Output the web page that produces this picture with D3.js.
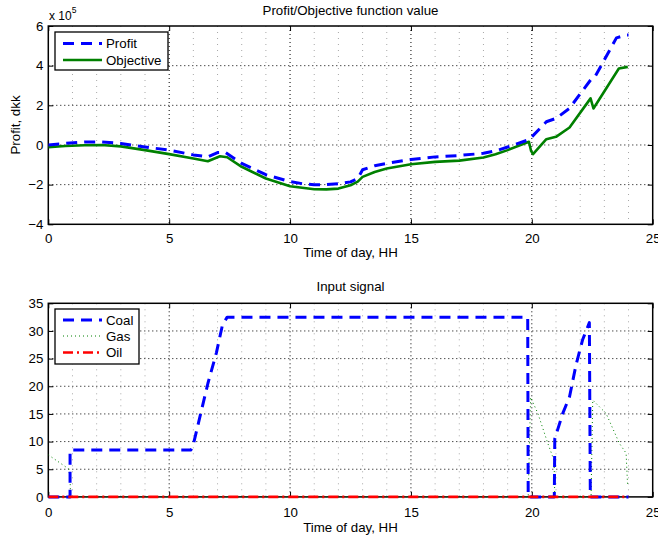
<!DOCTYPE html>
<html><head><meta charset="utf-8">
<script src="https://cdn.jsdelivr.net/npm/d3@7"></script>
<style>
body{margin:0;background:#fff;}
svg text{font-family:"Liberation Sans",Arial,Helvetica,sans-serif;fill:#000;}
</style></head>
<body><svg id="c" width="658" height="539"></svg>
<script>
// ---------- DATA ----------
const xTicks = [0, 5, 10, 15, 20, 25];
const topYTicks = [-4, -2, 0, 2, 4, 6];
const botYTicks = [0, 5, 10, 15, 20, 25, 30, 35];

// Profit (x 10^5 dkk)
const profitT = [0, 0.7, 1.5, 2.2, 3, 4, 5, 6, 6.6, 7.0, 7.3, 8, 9, 10, 10.5, 11, 11.5, 12, 12.5, 12.8, 13.0, 13.5, 14, 15, 16, 17, 18, 18.5, 19, 19.9, 20.6, 21.0, 21.55, 22.45, 22.6, 23.5, 23.9, 24];
const profitV = [0.0, 0.08, 0.15, 0.15, 0.08, -0.1, -0.26, -0.5, -0.6, -0.38, -0.36, -0.93, -1.5, -1.85, -1.95, -2.0, -2.0, -1.95, -1.86, -1.7, -1.25, -1.05, -0.93, -0.73, -0.6, -0.53, -0.42, -0.3, -0.1, 0.28, 1.17, 1.34, 1.84, 3.31, 3.41, 5.4, 5.54, 5.54];
// Objective (x 10^5)
const objT = [0, 0.7, 1.5, 2.2, 3, 4, 5, 6, 6.6, 7.1, 7.4, 8, 9, 10, 11, 11.5, 12, 12.5, 12.8, 13.0, 13.5, 14, 15, 16, 17, 18, 18.5, 19, 19.88, 19.97, 20.05, 20.6, 21.0, 21.56, 22.43, 22.55, 23.6, 23.97];
const objV = [-0.11, -0.05, -0.01, 0.0, -0.07, -0.26, -0.46, -0.68, -0.82, -0.57, -0.62, -1.1, -1.69, -2.08, -2.23, -2.24, -2.2, -2.03, -1.85, -1.61, -1.36, -1.19, -0.97, -0.85, -0.79, -0.63, -0.47, -0.26, 0.16, -0.3, -0.46, 0.29, 0.41, 0.88, 2.35, 1.84, 3.86, 3.94];

// Input signals
const coalT = [0, 0.9, 0.9, 5.9, 6.0, 6.3, 6.6, 6.95, 7.2, 7.4, 19.83, 19.85, 20.93, 20.95, 21.28, 21.56, 21.83, 22.1, 22.38, 22.42, 24];
const coalV = [0, 0, 8.5, 8.5, 9.5, 15, 20.5, 26, 31, 32.5, 32.5, 0, 0, 10.5, 15.1, 18.1, 23.9, 28.4, 31.5, 0, 0];
const gasT = [0, 0.83, 0.9, 0.92, 19.85, 19.95, 20.25, 20.66, 20.92, 20.95, 22.45, 22.52, 23.07, 23.62, 23.9, 23.96];
const gasV = [7.6, 5.1, 3.5, 0, 0, 18.0, 15.1, 9.7, 6.6, 0, 0, 17.5, 15.1, 9.7, 7.9, 2.2];
const oilT = [0, 24];
const oilV = [0, 0];

// ---------- LAYOUT ----------
const svg = d3.select("#c");
const FS = "13.3px";
const L = 48.3, R = 652.7;
const P1 = {top: 26, bottom: 224.3, xpad: 9};
const P2 = {top: 303.3, bottom: 496.9, xpad: 11};
const x = d3.scaleLinear().domain([0, 25]).range([L, R]);
const y1 = d3.scaleLinear().domain([-4, 6]).range([P1.bottom, P1.top]);
const y2 = d3.scaleLinear().domain([0, 35]).range([P2.bottom, P2.top]);

function panel(y, P, yTicks, clipId) {
  const g = svg.append("g");
  const minor = d3.range(1, 25).filter(v => v % 5 !== 0);
  g.selectAll(".mg").data(minor).enter().append("line")
    .attr("x1", d => x(d)).attr("x2", d => x(d)).attr("y1", P.top).attr("y2", P.bottom)
    .attr("stroke", "#a8a8a8").attr("stroke-width", 1).attr("stroke-dasharray", "1,5");
  g.selectAll(".gx").data(xTicks.slice(1, -1)).enter().append("line")
    .attr("x1", d => x(d)).attr("x2", d => x(d)).attr("y1", P.top).attr("y2", P.bottom)
    .attr("stroke", "#000").attr("stroke-width", 1).attr("stroke-dasharray", "1,3");
  g.selectAll(".gy").data(yTicks.slice(1, -1)).enter().append("line")
    .attr("y1", d => y(d)).attr("y2", d => y(d)).attr("x1", L).attr("x2", R)
    .attr("stroke", "#000").attr("stroke-width", 1).attr("stroke-dasharray", "1,3");
  const ax = d3.axisBottom(x).tickValues(xTicks).tickSize(-5).tickPadding(P.xpad).tickFormat(d3.format("d"));
  const ay = d3.axisLeft(y).tickValues(yTicks).tickSize(-5).tickPadding(5).tickFormat(d => d < 0 ? "\u2212" + Math.abs(d) : d);
  const axT = d3.axisTop(x).tickValues(xTicks).tickSize(-5).tickFormat("");
  const ayR = d3.axisRight(y).tickValues(yTicks).tickSize(-5).tickFormat("");
  [
    [ax, `translate(0,${P.bottom})`], [ay, `translate(${L},0)`],
    [axT, `translate(0,${P.top})`], [ayR, `translate(${R},0)`]
  ].forEach(([a, t]) => {
    const ag = g.append("g").attr("transform", t).call(a);
    ag.selectAll("path").remove();
    ag.selectAll("line").attr("stroke", "#000").attr("stroke-width", 1);
    ag.selectAll("text").style("font-size", FS).attr("fill", "#000");
  });
  g.append("defs").append("clipPath").attr("id", clipId).append("rect")
    .attr("x", L).attr("y", P.top - 4).attr("width", R - L).attr("height", P.bottom - P.top + 8);
  svg.append("rect").attr("x", L).attr("y", P.top).attr("width", R - L).attr("height", P.bottom - P.top)
    .attr("fill", "none").attr("stroke", "#000").attr("stroke-width", 1.5);
  return g;
}

function series(T, V, y, clip, color, width, dash) {
  const line = d3.line().x((d, i) => x(T[i])).y((d, i) => y(V[i]));
  svg.append("path").datum(V).attr("d", line).attr("fill", "none")
    .attr("stroke", color).attr("stroke-width", width)
    .attr("stroke-dasharray", dash || null).attr("stroke-linejoin", "round")
    .attr("clip-path", `url(#${clip})`);
}

function legend(bx, by, bw, bh, items) {
  svg.append("rect").attr("x", bx).attr("y", by).attr("width", bw).attr("height", bh)
    .attr("fill", "#fff").attr("stroke", "#000").attr("stroke-width", 1.3);
  items.forEach(it => {
    svg.append("line").attr("x1", bx + 8).attr("x2", bx + 47).attr("y1", it.y).attr("y2", it.y)
      .attr("stroke", it.color).attr("stroke-width", it.w).attr("stroke-dasharray", it.dash || null);
    svg.append("text").attr("x", bx + 51).attr("y", it.y).attr("dy", "0.36em")
      .style("font-size", FS).text(it.label);
  });
}

const BLUE = "#0000ff", GREEN = "#008000", RED = "#ff0000";
const DASH = "11,7", DASHDOT = "10,4,2,4", DOT = "1,3";

// ----- top panel -----
panel(y1, P1, topYTicks, "clip1");
series(objT, objV, y1, "clip1", GREEN, 2.6, null);
series(profitT, profitV, y1, "clip1", BLUE, 3, DASH);
legend(55, 32, 113, 38, [
  {label: "Profit", color: BLUE, w: 3, dash: DASH, y: 43.5},
  {label: "Objective", color: GREEN, w: 2.6, dash: null, y: 60}
]);
svg.append("text").attr("x", 350.5).attr("y", 14.5).attr("text-anchor", "middle")
  .style("font-size", FS).text("Profit/Objective function value");
svg.append("text").attr("x", 350.5).attr("y", 256.5).attr("text-anchor", "middle")
  .style("font-size", FS).text("Time of day, HH");
svg.append("text").attr("transform", "translate(20,125) rotate(-90)").attr("text-anchor", "middle")
  .style("font-size", FS).text("Profit, dkk");
const mult = svg.append("text").attr("x", 49).attr("y", 19.5).style("font-size", "12px");
mult.append("tspan").text("x 10");
mult.append("tspan").attr("dy", -7).style("font-size", "8.5px").text("5");

// ----- bottom panel -----
panel(y2, P2, botYTicks, "clip2");
series(gasT, gasV, y2, "clip2", GREEN, 1, DOT);
series(coalT, coalV, y2, "clip2", BLUE, 3, DASH);
series(oilT, oilV, y2, "clip2", RED, 2.6, DASHDOT);
legend(55, 309, 84, 55, [
  {label: "Coal", color: BLUE, w: 3, dash: DASH, y: 320},
  {label: "Gas", color: GREEN, w: 1, dash: DOT, y: 336},
  {label: "Oil", color: RED, w: 2.6, dash: DASHDOT, y: 352.5}
]);
svg.append("text").attr("x", 350.5).attr("y", 291).attr("text-anchor", "middle")
  .style("font-size", FS).text("Input signal");
svg.append("text").attr("x", 350.5).attr("y", 532).attr("text-anchor", "middle")
  .style("font-size", FS).text("Time of day, HH");
</script></body></html>
